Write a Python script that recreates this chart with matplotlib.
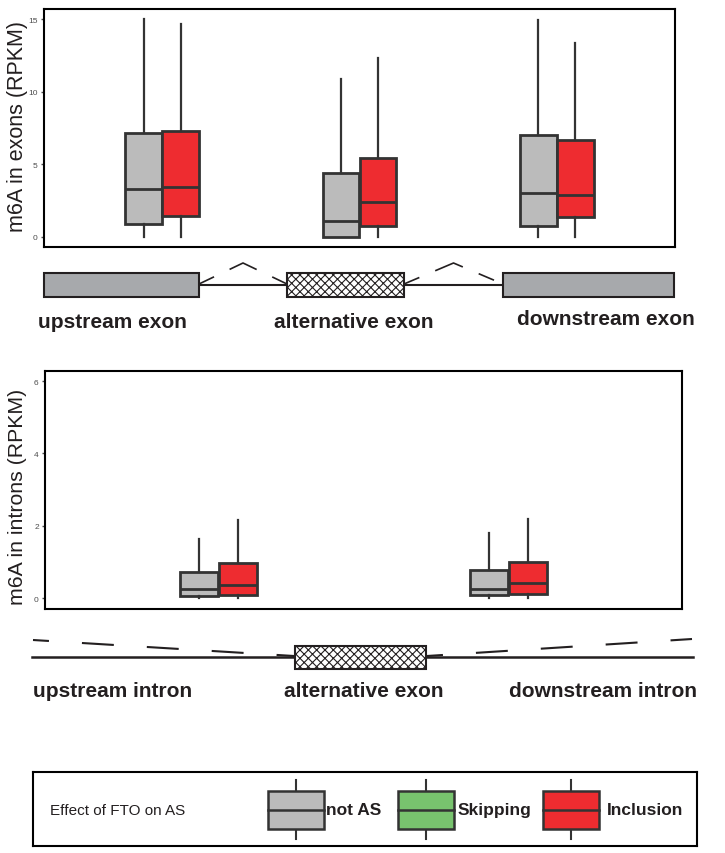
import matplotlib
matplotlib.use('Agg')
import matplotlib.pyplot as plt
from matplotlib.patches import Rectangle

plt.rcParams['font.family'] = ['Liberation Sans', 'DejaVu Sans']
plt.rcParams['lines.scale_dashes'] = False
plt.rcParams['hatch.linewidth'] = 0.8

# ---- data (box stats) ----
exon_regions = ['upstream exon', 'alternative exon', 'downstream exon']
exon_notas_lo = [0.0, 0.0, 0.0]
exon_notas_q1 = [0.9, 0.0, 0.74]
exon_notas_med = [3.3, 1.12, 3.0]
exon_notas_q3 = [7.15, 4.4, 7.02]
exon_notas_hi = [15.0, 10.9, 14.93]

exon_incl_lo = [0.0, 0.0, 0.0]
exon_incl_q1 = [1.47, 0.78, 1.36]
exon_incl_med = [3.46, 2.43, 2.87]
exon_incl_q3 = [7.3, 5.44, 6.7]
exon_incl_hi = [14.7, 12.3, 13.35]

intron_regions = ['upstream intron', 'downstream intron']
intron_notas_lo = [0.0, 0.0]
intron_notas_q1 = [0.06, 0.08]
intron_notas_med = [0.24, 0.25]
intron_notas_q3 = [0.71, 0.78]
intron_notas_hi = [1.64, 1.8]

intron_incl_lo = [0.0, 0.0]
intron_incl_q1 = [0.08, 0.12]
intron_incl_med = [0.36, 0.42]
intron_incl_q3 = [0.98, 1.0]
intron_incl_hi = [2.15, 2.2]

legend_labels = ['not AS', 'Skipping', 'Inclusion']

# ---- styles ----
W, H = 725, 854
c_gray = '#BBBBBB'
c_green = '#78C36E'
c_red = '#EE2C30'
c_edge = '#333333'
c_dark = '#231F20'
c_exon = '#A7A9AC'


def fig_rect(l, t, r, b):
    return [l / W, 1 - b / H, (r - l) / W, (b - t) / H]


def box_stats(lo, q1, med, q3, hi):
    return [dict(whislo=a, q1=b, med=c, q3=d, whishi=e)
            for a, b, c, d, e in zip(lo, q1, med, q3, hi)]


def draw_boxes(ax, stats, positions, width, color):
    ax.bxp(stats, positions=positions, widths=width, patch_artist=True,
           showfliers=False, showcaps=False,
           boxprops=dict(facecolor=color, edgecolor=c_edge, linewidth=2.0),
           whiskerprops=dict(color=c_edge, linewidth=1.6),
           medianprops=dict(color=c_edge, linewidth=2.0))


def style_panel(ax, yticks):
    ax.set_xticks([])
    ax.set_yticks(yticks)
    ax.tick_params(axis='y', length=2.5, width=1, color='#4D4D4D',
                   labelsize=6, labelcolor='#4D4D4D', pad=2)
    for sp in ax.spines.values():
        sp.set_color('black')
        sp.set_linewidth(1.5)


fig = plt.figure(figsize=(W / 100, H / 100), dpi=100)

# decoration layer (gene structure sketches), in pixel coordinates
deco = fig.add_axes([0, 0, 1, 1])
deco.set_xlim(0, W)
deco.set_ylim(H, 0)
deco.set_axis_off()

# ---- exon panel ----
ax1 = fig.add_axes(fig_rect(44, 10, 675, 248))
pos = [i + 1 for i in range(len(exon_regions))]
draw_boxes(ax1, box_stats(exon_notas_lo, exon_notas_q1, exon_notas_med, exon_notas_q3, exon_notas_hi),
           [p - 0.094 for p in pos], 0.187, c_gray)
draw_boxes(ax1, box_stats(exon_incl_lo, exon_incl_q1, exon_incl_med, exon_incl_q3, exon_incl_hi),
           [p + 0.094 for p in pos], 0.187, c_red)
ax1.set_xlim(0.4, 3.6)
ax1.set_ylim(-0.7, 15.7)
style_panel(ax1, [0, 5, 10, 15])
fig.text(17.5 / W, 1 - 126.5 / H, 'm6A in exons (RPKM)', rotation=90,
         ha='center', va='center', fontsize=15.5, color=c_dark)

# ---- intron panel ----
ax2 = fig.add_axes(fig_rect(45, 372, 682, 610))
pos = [i + 1 for i in range(len(intron_regions))]
draw_boxes(ax2, box_stats(intron_notas_lo, intron_notas_q1, intron_notas_med, intron_notas_q3, intron_notas_hi),
           [p - 0.067 for p in pos], 0.131, c_gray)
draw_boxes(ax2, box_stats(intron_incl_lo, intron_incl_q1, intron_incl_med, intron_incl_q3, intron_incl_hi),
           [p + 0.067 for p in pos], 0.131, c_red)
ax2.set_xlim(0.4, 2.6)
ax2.set_ylim(-0.3, 6.28)
style_panel(ax2, [0, 2, 4, 6])
fig.text(17.5 / W, 1 - 496.5 / H, 'm6A in introns (RPKM)', rotation=90,
         ha='center', va='center', fontsize=15.3, color=c_dark)

# ---- exon sketch ----
deco.plot([199, 287], [285.5, 285.5], color=c_dark, lw=1.5)
deco.plot([404, 503], [285.5, 285.5], color=c_dark, lw=1.5)
caret = (0, (12, 12.4, 21.6, 12.4, 12, 60))
deco.plot([199, 243, 287], [285, 264, 285], color=c_dark, lw=1.2, ls=caret)
deco.plot([404, 453.5, 503], [285, 264, 285], color=c_dark, lw=1.2, ls=caret)
deco.add_patch(Rectangle((44, 274), 155, 24, fc=c_exon, ec=c_dark, lw=1.5, zorder=3))
deco.add_patch(Rectangle((287, 274), 117, 23.5, fc='white', ec=c_dark, lw=1.5,
                         hatch='xxxx', zorder=3))
deco.add_patch(Rectangle((503, 274), 171, 24, fc=c_exon, ec=c_dark, lw=1.5, zorder=3))
for x, y, s in zip([112, 354, 606], [328, 328, 325], exon_regions):
    deco.text(x, y, s, ha='center', va='baseline', fontsize=15,
              fontweight='bold', color=c_dark)

# ---- intron sketch ----
deco.plot([32, 693], [658, 658], color=c_dark, lw=1.8)
dash = (11.5, (23, 23.8))
deco.plot([33, 294], [641, 657], color=c_dark, lw=1.5, ls=dash)
deco.plot([427, 692], [657, 640], color=c_dark, lw=1.5, ls=dash)
deco.add_patch(Rectangle((295, 647), 131, 23, fc='white', ec=c_dark, lw=1.5,
                         hatch='xxxx', zorder=3))
for x, s in zip([113, 364, 603], [intron_regions[0], 'alternative exon', intron_regions[1]]):
    deco.text(x, 697, s, ha='center', va='baseline', fontsize=15,
              fontweight='bold', color=c_dark)

# ---- legend ----
leg = fig.add_axes(fig_rect(33, 773, 697, 847))
leg.set_xlim(33, 697)
leg.set_ylim(847, 773)
leg.set_xticks([])
leg.set_yticks([])
for sp in leg.spines.values():
    sp.set_color('black')
    sp.set_linewidth(1.5)
leg.text(50, 811, 'Effect of FTO on AS', ha='left', va='center', fontsize=11, color=c_dark)
for x0, col, lab, tx in zip([268, 398, 543], [c_gray, c_green, c_red], legend_labels, [326, 458, 607]):
    leg.plot([x0 + 28, x0 + 28], [781, 840], color=c_edge, lw=1.5, zorder=1)
    leg.add_patch(Rectangle((x0, 792), 56, 38, fc=col, ec=c_edge, lw=1.8, zorder=2))
    leg.plot([x0, x0 + 56], [811, 811], color=c_edge, lw=1.8, zorder=3)
    leg.text(tx, 811, lab, ha='left', va='center', fontsize=12.5,
             fontweight='bold', color=c_dark)

fig.savefig('out.png', dpi=100)
